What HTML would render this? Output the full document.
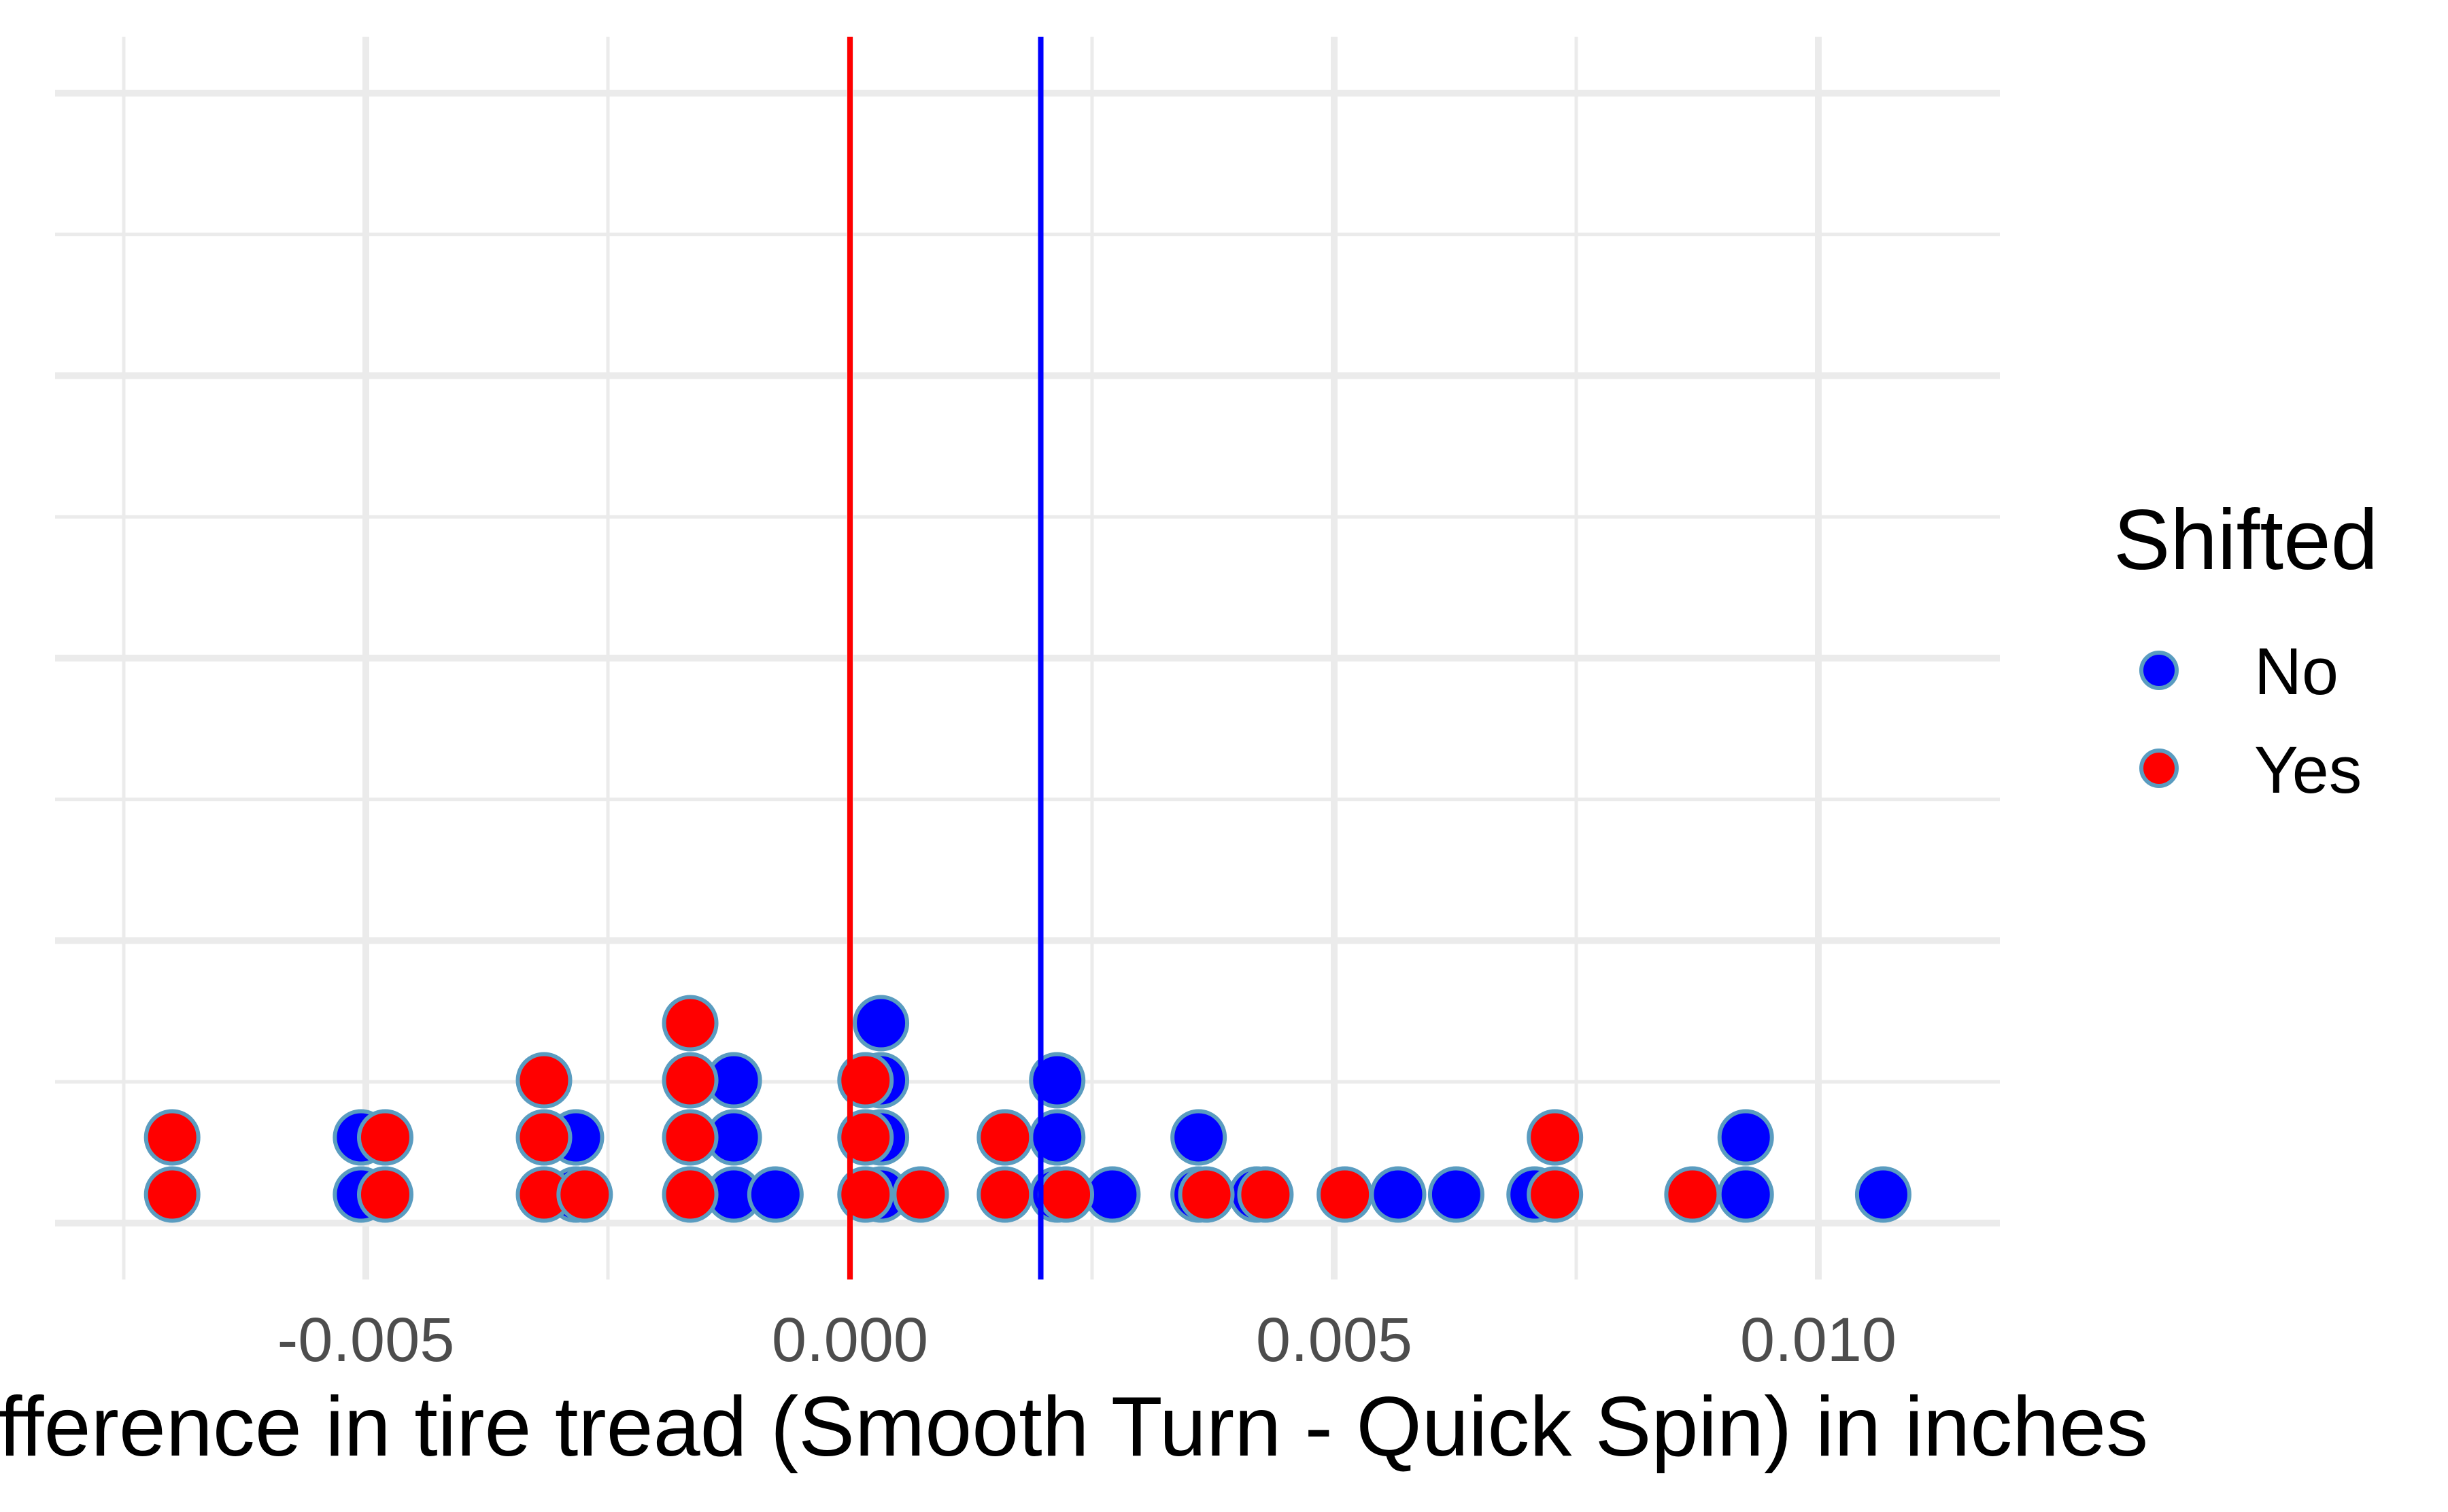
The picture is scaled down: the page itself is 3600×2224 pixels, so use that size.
<!DOCTYPE html>
<html><head><meta charset="utf-8"><style>
html,body{margin:0;padding:0;background:#fff;}
svg{display:block;font-family:"Liberation Sans",Arial,sans-serif;}
</style></head><body>
<svg id="chart" width="3600" height="2224" viewBox="0 0 3600 2224" xmlns="http://www.w3.org/2000/svg">
<g id="grid"></g>
<g id="dots"></g>
<g id="vlines"></g>
<g id="xticks"></g>
<text x="1520" y="2141" text-anchor="middle" font-size="124" fill="#000">Difference in tire tread (Smooth Turn - Quick Spin) in inches</text>
<g>
<text x="3108" y="837" font-size="125" fill="#000">Shifted</text>
<g>
<circle cx="3175" cy="986" r="26" fill="#0000ff" stroke="#5a9cc0" stroke-width="6"/>
<text x="3315" y="1021" font-size="97" fill="#000">No</text></g>
<g>
<circle cx="3175" cy="1130" r="26" fill="#ff0000" stroke="#5a9cc0" stroke-width="6"/>
<text x="3315" y="1166" font-size="97" fill="#000">Yes</text></g>
</g>
</svg>
<script>
const blueX = [-0.00505,-0.00283,-0.0012,-0.00077,0.00032,0.00214,0.00271,0.0036,0.0042,0.00566,0.00626,0.00707,0.00925,0.01067];
const blueN = [2,2,3,1,4,3,1,2,1,1,1,1,2,1];
const redX = [-0.00700,-0.00480,-0.00316,-0.00274,-0.00165,0.00016,0.00073,0.00160,0.00223,0.00368,0.00429,0.00511,0.00728,0.00870];
const redN = [2,2,3,1,4,3,1,2,1,1,1,1,2,1];
const xTickVals = [-0.005,0,0.005,0.010];
const xTickLabels = ["-0.005","0.000","0.005","0.010"];
const xMinorVals = [-0.0075,-0.0025,0.0025,0.0075];
const yMajorVals = [0,0.25,0.5,0.75,1];
const yMinorVals = [0.125,0.375,0.625,0.875];
const meanRed = 0.0;
const meanBlue = 0.00197;

const NS="http://www.w3.org/2000/svg";
const L=81,R=2941,T=54,B=1882;
function xs(v){return 1250+v/0.005*712;}
function ys(v){return 1799-v*1662;}
function mk(t,a,p){const e=document.createElementNS(NS,t);for(const k in a)e.setAttribute(k,a[k]);p.appendChild(e);return e;}
const grid=document.getElementById('grid');
yMinorVals.forEach(v=>{const e=mk('line',{x1:L,x2:R,y1:ys(v),y2:ys(v),stroke:'#ebebeb','stroke-width':5},grid);

});
xMinorVals.forEach(v=>{const e=mk('line',{x1:xs(v),x2:xs(v),y1:T,y2:B,stroke:'#ebebeb','stroke-width':5},grid);

});
yMajorVals.forEach(v=>{const e=mk('line',{x1:L,x2:R,y1:ys(v),y2:ys(v),stroke:'#ebebeb','stroke-width':10},grid);

});
xTickVals.forEach(v=>{const e=mk('line',{x1:xs(v),x2:xs(v),y1:T,y2:B,stroke:'#ebebeb','stroke-width':10},grid);

});
const dots=document.getElementById('dots');
function drawSeries(X,N,col,name){
  X.forEach((v,i)=>{for(let k=0;k<N[i];k++){
    const c=mk('circle',{cx:xs(v),cy:1757-k*84,r:38.5,fill:col,stroke:'#5a9cc0','stroke-width':6},dots);
    
    
  }});
}
drawSeries(blueX,blueN,'#0000ff','dot-no');
drawSeries(redX,redN,'#ff0000','dot-yes');
const vl=document.getElementById('vlines');
const lr=mk('line',{x1:xs(meanRed),x2:xs(meanRed),y1:T,y2:B,stroke:'#ff0000','stroke-width':8},vl);


const lb=mk('line',{x1:xs(meanBlue),x2:xs(meanBlue),y1:T,y2:B,stroke:'#0000ff','stroke-width':8},vl);


const xt=document.getElementById('xticks');
xTickVals.forEach((v,i)=>{const t=mk('text',{x:xs(v),y:2002,'text-anchor':'middle','font-size':92,fill:'#4d4d4d'},xt);
t.textContent=xTickLabels[i];

});
</script>
</body></html>
